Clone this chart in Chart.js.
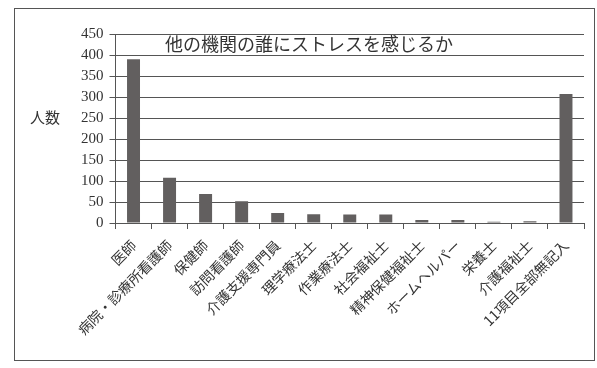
<!DOCTYPE html>
<html>
<head>
<meta charset="utf-8">
<script src="https://cdn.jsdelivr.net/npm/chart.js@4"></script>
<style>
  body { margin: 0; background: #fff; }
  #frame { position: absolute; left: 14px; top: 8px; width: 581px; height: 353px; border: 1px solid #555; box-sizing: border-box; }
  #frame canvas { display: block; }
</style>
</head>
<body>
<div id="frame"><canvas id="myChart" width="579" height="351"></canvas></div>
<script>
const categories = ["医師", "病院・診療所看護師", "保健師", "訪問看護師", "介護支援専門員", "理学療法士", "作業療法士", "社会福祉士", "精神保健福祉士", "ホームヘルパー", "栄養士", "介護福祉士", "11項目全部無記入"];
const counts = [390, 108, 69, 52, 24, 21, 20, 20, 7, 7, 3, 4, 307];
const yTicks = [0, 50, 100, 150, 200, 250, 300, 350, 400, 450];
const chartTitle = "他の機関の誰にストレスを感じるか";
const yTitle = "人数";

const serif = "'Liberation Serif', 'Noto Sans CJK JP', serif";
const jp = "'Noto Sans CJK JP', sans-serif";

const overlayText = {
  id: "overlayText",
  afterDraw(chart) {
    const { ctx, scales } = chart;
    ctx.save();
    ctx.fillStyle = "#333";
    ctx.font = "18px " + jp;
    ctx.textAlign = "center";
    ctx.textBaseline = "middle";
    ctx.fillText(chartTitle, 294, scales.y.getPixelForValue(425));
    ctx.font = "15px " + jp;
    ctx.fillText(yTitle, 30, scales.y.getPixelForValue(250) - 1);
    ctx.restore();
  }
};

document.addEventListener("DOMContentLoaded", function () {
  const cha = document.getElementById("myChart").getContext("2d");
  new Chart(cha, {
    type: "bar",
    data: {
      labels: categories,
      datasets: [
        {
          data: counts,
          backgroundColor: "#625f5f",
          borderWidth: 0,
          barPercentage: 0.36,
          categoryPercentage: 1.0,
        },
      ],
    },
    options: {
      responsive: false,
      animation: false,
      layout: { padding: { left: 60, right: 10, top: 25, bottom: 14 } },
      plugins: {
        legend: { display: false },
        tooltip: { enabled: false },
      },
      scales: {
        x: {
          grid: {
            drawOnChartArea: false,
            color: "#555",
            tickLength: 6,
            offset: true,
          },
          border: { color: "#555" },
          ticks: {
            color: "#333",
            font: { family: jp, size: 14 },
            minRotation: 45,
            maxRotation: 45,
            autoSkip: false,
            padding: 8,
          },
        },
        y: {
          min: 0,
          max: 450,
          afterBuildTicks: function (axis) {
            axis.ticks = yTicks.map(function (v) { return { value: v }; });
          },
          grid: { color: "#555", tickLength: 6 },
          border: { color: "#555" },
          ticks: {
            color: "#333",
            font: { family: serif, size: 15 },
            padding: 6,
            autoSkip: false,
          },
        },
      },
    },
    plugins: [overlayText],
  });
});
</script>
</body>
</html>
